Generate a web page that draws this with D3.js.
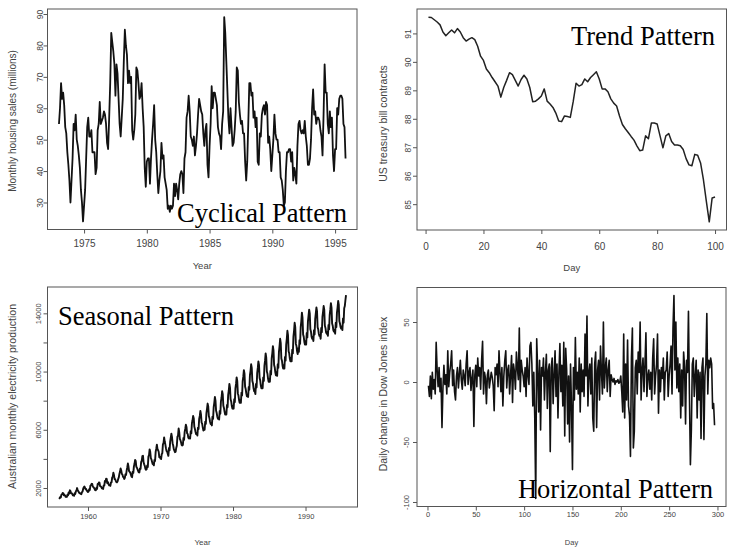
<!DOCTYPE html>
<html>
<head>
<meta charset="utf-8">
<script src="https://cdn.jsdelivr.net/npm/d3@7"></script>
<style>
  body { margin: 0; background: #fff; }
  svg { display: block; }
</style>
</head>
<body>
<svg id="chart" width="731" height="550"></svg>
<script>
// ---- Monthly housing sales (millions), Jan 1973 - Nov 1995 ----
const hsalesStart = 1973;
const hsales = [
  55, 60, 68, 63, 65, 61, 54, 52, 46, 42, 37, 30,
  37, 44, 55, 53, 58, 50, 48, 45, 41, 34, 30, 24,
  29, 34, 44, 54, 57, 51, 51, 53, 46, 46, 46, 39,
  41, 53, 55, 62, 55, 56, 57, 59, 58, 55, 49, 47,
  57, 68, 84, 81, 78, 74, 64, 74, 71, 63, 55, 51,
  57, 63, 75, 85, 80, 77, 68, 72, 68, 70, 53, 50,
  53, 58, 73, 72, 68, 63, 64, 68, 60, 54, 41, 35,
  43, 44, 44, 36, 44, 50, 55, 61, 50, 46, 39, 33,
  37, 40, 49, 44, 45, 38, 36, 34, 28, 29, 27, 29,
  28, 29, 36, 32, 36, 34, 31, 36, 39, 40, 39, 33,
  44, 46, 57, 59, 64, 59, 51, 50, 48, 51, 45, 48,
  52, 58, 63, 61, 59, 58, 52, 48, 53, 55, 42, 38,
  48, 55, 67, 60, 65, 65, 63, 61, 54, 52, 51, 47,
  55, 59, 89, 84, 75, 66, 57, 52, 60, 54, 48, 49,
  53, 59, 73, 72, 62, 58, 55, 56, 52, 52, 43, 37,
  43, 55, 68, 68, 64, 65, 57, 59, 54, 57, 43, 42,
  52, 51, 58, 60, 61, 58, 62, 61, 49, 51, 47, 40,
  45, 50, 58, 52, 50, 50, 46, 46, 38, 37, 34, 29,
  30, 40, 46, 46, 47, 47, 43, 46, 37, 41, 39, 36,
  48, 55, 56, 53, 52, 53, 52, 56, 51, 48, 42, 42,
  44, 50, 60, 66, 58, 59, 55, 57, 57, 56, 53, 51,
  45, 58, 74, 65, 65, 55, 52, 59, 54, 57, 45, 40,
  47, 47, 60, 58, 63, 64, 64, 63, 55, 54, 44
];
const hsalesXTicks = [1975, 1980, 1985, 1990, 1995];
const hsalesYTicks = [30, 40, 50, 60, 70, 80, 90];

// ---- US treasury bill contracts, 100 trading days ----
const ustreas = [
  91.57, 91.56, 91.48, 91.40, 91.30, 91.05, 90.92, 91.02, 91.12, 91.02,
  91.17, 91.05, 90.85, 90.73, 90.80, 90.85, 90.78, 90.55, 90.20, 90.05,
  89.75, 89.62, 89.45, 89.30, 89.15, 88.76, 89.10, 89.35, 89.62, 89.55,
  89.35, 89.15, 89.38, 89.53, 89.40, 89.10, 88.60, 88.62, 88.70, 88.80,
  89.05, 88.62, 88.52, 88.40, 88.20, 87.92, 87.90, 88.10, 88.08, 88.05,
  88.60, 89.25, 89.15, 89.20, 89.40, 89.30, 89.45, 89.55, 89.65, 89.40,
  89.05, 89.05, 88.95, 88.70, 88.55, 88.45, 88.10, 87.80, 87.65, 87.52,
  87.38, 87.25, 87.05, 86.88, 86.90, 87.40, 87.30, 87.85, 87.85, 87.82,
  87.40, 86.98, 87.40, 87.48, 87.20, 87.08, 87.08, 87.05, 86.92, 86.60,
  86.38, 86.35, 86.75, 86.72, 86.45, 85.85, 85.10, 84.38, 85.22, 85.25
];
const ustreasXTicks = [0, 20, 40, 60, 80, 100];
const ustreasYTicks = [85, 86, 87, 88, 89, 90, 91];

// ---- Australian monthly electricity production, Jan 1956 - Aug 1995 ----
const elecStart = 1956;
const elec = [
  1254, 1290, 1379, 1346, 1535, 1555, 1655, 1651, 1500, 1538, 1486, 1394,
  1409, 1387, 1543, 1502, 1693, 1616, 1841, 1787, 1631, 1649, 1586, 1500,
  1497, 1463, 1648, 1595, 1777, 1824, 1994, 1835, 1787, 1699, 1633, 1645,
  1597, 1577, 1709, 1756, 1936, 2052, 2105, 2016, 1914, 1925, 1824, 1765,
  1721, 1752, 1914, 1857, 2159, 2195, 2287, 2276, 2096, 2055, 2004, 1924,
  1851, 1839, 2019, 1937, 2270, 2251, 2382, 2364, 2129, 2110, 2072, 1980,
  1995, 1932, 2171, 2162, 2489, 2424, 2641, 2630, 2324, 2412, 2284, 2186,
  2184, 2144, 2379, 2383, 2717, 2774, 3051, 2891, 2613, 2600, 2493, 2410,
  2390, 2463, 2616, 2734, 2970, 3125, 3342, 3207, 2964, 2919, 2764, 2732,
  2622, 2698, 2950, 2895, 3200, 3408, 3679, 3473, 3154, 3107, 3052, 2918,
  2786, 2739, 3125, 3033, 3486, 3661, 3927, 3851, 3456, 3390, 3280, 3166,
  3080, 3069, 3340, 3310, 3798, 3883, 4191, 4213, 3766, 3628, 3520, 3322,
  3250, 3287, 3552, 3440, 4153, 4265, 4655, 4492, 4051, 3967, 3807, 3639,
  3647, 3560, 3929, 3858, 4485, 4697, 4977, 4675, 4596, 4491, 4127, 4144,
  4014, 3994, 4320, 4400, 5002, 5091, 5471, 5193, 4997, 4737, 4546, 4498,
  4350, 4206, 4743, 4582, 5191, 5457, 5735, 5505, 5080, 4920, 4672, 4569,
  4459, 4488, 4755, 4904, 5524, 5599, 6086, 5836, 5365, 5287, 5137, 4960,
  4926, 4952, 5446, 5307, 5855, 6073, 6349, 6194, 5753, 5718, 5456, 5399,
  5500, 5400, 5900, 5750, 6450, 6650, 6950, 6800, 6200, 6050, 5850, 5700,
  5750, 5600, 6150, 6050, 6750, 6950, 7300, 7050, 6500, 6400, 6150, 5950,
  6100, 6000, 6550, 6400, 7150, 7450, 7800, 7600, 6950, 6800, 6550, 6400,
  6450, 6300, 6900, 6750, 7550, 7850, 8250, 8000, 7300, 7150, 6900, 6750,
  6850, 6700, 7300, 7100, 7950, 8200, 8650, 8450, 7650, 7500, 7250, 7050,
  7200, 7050, 7700, 7550, 8400, 8700, 9150, 8900, 8100, 7950, 7650, 7450,
  7600, 7450, 8100, 7900, 8850, 9150, 9600, 9350, 8500, 8350, 8050, 7850,
  8050, 7850, 8550, 8350, 9350, 9650, 10100, 9850, 8950, 8800, 8500, 8300,
  8450, 8250, 8950, 8750, 9750, 10050, 10500, 10250, 9350, 9200, 8850, 8650,
  8650, 8450, 9150, 8900, 9900, 10250, 10700, 10450, 9550, 9400, 9050, 8850,
  9050, 8850, 9600, 9350, 10400, 10750, 11250, 10950, 10000, 9850, 9500, 9300,
  9500, 9300, 10050, 9800, 10900, 11250, 11750, 11450, 10450, 10300, 9950, 9750,
  9950, 9700, 10500, 10250, 11350, 11750, 12250, 11950, 10900, 10750, 10400, 10200,
  10450, 10200, 11000, 10750, 11850, 12250, 12800, 12500, 11400, 11250, 10900, 10700,
  10950, 10700, 11500, 11250, 12400, 12800, 13350, 13050, 11900, 11750, 11400, 11200,
  11600, 11350, 12150, 11900, 13050, 13450, 14050, 13700, 12550, 12400, 12050, 11850,
  12100, 11850, 12650, 12350, 13450, 13850, 14250, 14000, 12900, 12750, 12400, 12250,
  12350, 12100, 12850, 12550, 13600, 14000, 14400, 14150, 13050, 12900, 12600, 12450,
  12500, 12250, 13000, 12700, 13750, 14100, 14500, 14250, 13150, 13000, 12700, 12600,
  12700, 12450, 13200, 12900, 13900, 14250, 14700, 14400, 13300, 13150, 12850, 12750,
  12850, 12600, 13350, 13050, 14050, 14400, 14850, 14600, 13450, 13300, 13050, 12950,
  13100, 12850, 13650, 13350, 14350, 14500, 14900, 15250
];
const elecXTicks = [1960, 1970, 1980, 1990];
const elecYTicks = [2000, 4000, 6000, 8000, 10000, 12000, 14000];
const elecYTickLabels = [2000, 6000, 10000, 14000];

// ---- Daily change in the Dow Jones index ----
const djChange = [
  -3, -12, 5, -14, 8, -6, 2, -10, 33, 10,
  -4, 12, -8, 3, -38, -5, 14, -2, 6, -10,
  26, -4, 8, 15, 26, -3, 10, -8, -15, 5,
  12, -5, 7, 18, 2, -6, 10, 5, -3, 15,
  26, -2, 8, 12, -7, 3, 10, -37, 6, 14,
  -4, 20, 5, 12, -6, 18, 34, -10, 8, 3,
  -18, 6, 10, -5, 2, 8, 4, -3, -24, 12,
  6, 15, -4, 26, 8, -8, 12, -20, 5, 18,
  26, -5, 10, 14, -10, 6, 22, -17, 15, 8,
  -6, 25, 12, 2, 45, -8, 18, 10, 5, -4,
  12, -12, 20, 6, -2, 30, 33, 15, -20, 8,
  -30, -97, 36, 10, -25, 18, -40, 12, 5, 20,
  -15, 8, 23, -22, 10, 15, -58, 12, 20, -18,
  6, 26, -12, 15, -30, 8, 32, -8, 14, -20,
  33, -45, 28, 10, -35, 5, -50, 15, -20, -73,
  12, -15, 37, -6, 8, -10, 20, -25, 15, -8,
  10, -12, 40, 5, 55, -20, 8, 15, -10, 20,
  -30, -41, 15, 25, -38, 10, 18, -15, 30, 8,
  -10, 50, -5, 12, 20, -8, 10, 18, -12, 6,
  2, 0, 3, -2, 1, 0, 2, -1, 0, 5,
  -8, -25, 40, -30, 15, -15, 35, -20, -28, -62,
  20, 45, -55, -41, 12, 18, -10, 25, 8, 50,
  -15, 10, 20, -8, 15, 41, -12, 5, 10, -6,
  8, -15, 20, 36, -10, 5, 15, 40, -26, 10,
  -8, 12, 3, 20, -15, 8, 10, 25, -12, 5,
  15, 30, -10, 45, 72, 10, 50, -5, 20, -8,
  15, -30, 10, -20, 25, 12, -35, 18, 8, 59,
  -10, -69, -40, 15, 20, -12, 5, 18, -30, 10,
  -15, 8, -47, 12, 20, -48, 5, 15, 57, -10,
  18, 12, 20, 15, -22, -18, -36
];
const djXTicks = [0, 50, 100, 150, 200, 250, 300];
const djYTicks = [-100, -50, 0, 50];

// ---- drawing ----
const svg = d3.select("#chart");
const SANS = "'Liberation Sans', Arial, Helvetica, sans-serif";
const SERIF = "'Liberation Serif', 'Times New Roman', serif";
const AXIS_COLOR = "#555";
const TEXT_COLOR = "#444";

// R-style axis range: data extent widened by 4% on both sides
function padded(values) {
  const [lo, hi] = d3.extent(values);
  const p = (hi - lo) * 0.04;
  return [lo - p, hi + p];
}

function drawPanel(cfg) {
  const g = svg.append("g");
  const b = cfg.box;
  const x = d3.scaleLinear().domain(padded(cfg.xs)).range([b.x0, b.x1]);
  const y = d3.scaleLinear().domain(padded(cfg.ys)).range([b.y1, b.y0]);

  // series line
  const line = d3.line().x(d => x(d[0])).y(d => y(d[1]));
  g.append("path")
    .datum(d3.zip(cfg.xs, cfg.ys))
    .attr("d", line)
    .attr("fill", "none")
    .attr("stroke", cfg.stroke)
    .attr("stroke-width", cfg.lineWidth)
    .attr("stroke-linejoin", "round");

  // plot frame
  g.append("rect")
    .attr("x", b.x0).attr("y", b.y0)
    .attr("width", b.x1 - b.x0).attr("height", b.y1 - b.y0)
    .attr("fill", "none").attr("stroke", AXIS_COLOR).attr("stroke-width", 1);

  // bottom axis
  const xa = g.append("g")
    .attr("transform", `translate(0,${b.y1})`)
    .call(d3.axisBottom(x).tickValues(cfg.xTicks).tickSize(4)
      .tickPadding(cfg.xTickPad).tickFormat(v => String(v)));
  xa.select(".domain").remove();
  xa.selectAll("line").attr("stroke", AXIS_COLOR);
  xa.selectAll("text")
    .attr("font-family", SANS).attr("font-size", cfg.xTickFont)
    .attr("fill", TEXT_COLOR);

  // left axis, labels parallel to the axis
  const labelled = cfg.yTickLabels || cfg.yTicks;
  const ya = g.append("g")
    .attr("transform", `translate(${b.x0},0)`)
    .call(d3.axisLeft(y).tickValues(cfg.yTicks).tickSize(4)
      .tickFormat(v => labelled.includes(v) ? String(v) : ""));
  ya.select(".domain").remove();
  ya.selectAll("line").attr("stroke", AXIS_COLOR);
  ya.selectAll("text")
    .attr("transform", "rotate(-90)")
    .attr("x", 0).attr("y", -cfg.yTickPad).attr("dy", 0)
    .attr("text-anchor", "middle")
    .attr("font-family", SANS).attr("font-size", cfg.yTickFont)
    .attr("fill", TEXT_COLOR);

  // axis titles
  g.append("text")
    .attr("x", (b.x0 + b.x1) / 2).attr("y", cfg.xTitleY)
    .attr("text-anchor", "middle")
    .attr("font-family", SANS).attr("font-size", cfg.xTitleFont)
    .attr("fill", TEXT_COLOR)
    .text(cfg.xTitle);
  g.append("text")
    .attr("transform", `translate(${cfg.yTitleX},${cfg.yTitleMid}) rotate(-90)`)
    .attr("text-anchor", "middle")
    .attr("font-family", SANS).attr("font-size", cfg.yTitleFont)
    .attr("fill", TEXT_COLOR)
    .text(cfg.yTitle);

  // pattern caption
  g.append("text")
    .attr("x", cfg.captionX).attr("y", cfg.captionY)
    .attr("text-anchor", cfg.captionAnchor)
    .attr("font-family", SERIF).attr("font-size", 26.5)
    .attr("fill", "#000")
    .text(cfg.caption);
}

drawPanel({
  xs: hsales.map((_, i) => hsalesStart + i / 12),
  ys: hsales,
  box: { x0: 47.5, x1: 357, y0: 9, y1: 229.5 },
  stroke: "#111", lineWidth: 1.8,
  xTicks: hsalesXTicks, yTicks: hsalesYTicks,
  xTickPad: 6, xTickFont: 10, yTickPad: 5, yTickFont: 8.5,
  xTitle: "Year", xTitleY: 269, xTitleFont: 9.5,
  yTitle: "Monthly housing sales (millions)", yTitleX: 16, yTitleMid: 121, yTitleFont: 10,
  caption: "Cyclical Pattern", captionX: 347, captionY: 222, captionAnchor: "end"
});

drawPanel({
  xs: ustreas.map((_, i) => i + 1),
  ys: ustreas,
  box: { x0: 417, x1: 726.5, y0: 9, y1: 230 },
  stroke: "#222", lineWidth: 1.5,
  xTicks: ustreasXTicks, yTicks: ustreasYTicks,
  xTickPad: 9, xTickFont: 10, yTickPad: 6, yTickFont: 8.5,
  xTitle: "Day", xTitleY: 271, xTitleFont: 9.5,
  yTitle: "US treasury bill contracts", yTitleX: 387, yTitleMid: 123.5, yTitleFont: 10.5,
  caption: "Trend Pattern", captionX: 715, captionY: 45, captionAnchor: "end"
});

drawPanel({
  xs: elec.map((_, i) => elecStart + i / 12),
  ys: elec,
  box: { x0: 47.5, x1: 357.5, y0: 287, y1: 507 },
  stroke: "#111", lineWidth: 1.9,
  xTicks: elecXTicks, yTicks: elecYTicks, yTickLabels: elecYTickLabels,
  xTickPad: 3, xTickFont: 7.5, yTickPad: 7, yTickFont: 7.5,
  xTitle: "Year", xTitleY: 545, xTitleFont: 8,
  yTitle: "Australian monthly electricity production", yTitleX: 16, yTitleMid: 396.5, yTitleFont: 10.5,
  caption: "Seasonal Pattern", captionX: 58, captionY: 325, captionAnchor: "start"
});

drawPanel({
  xs: djChange.map((_, i) => i + 1),
  ys: djChange,
  box: { x0: 417, x1: 726, y0: 287.5, y1: 506.5 },
  stroke: "#111", lineWidth: 1.6,
  xTicks: djXTicks, yTicks: djYTicks,
  xTickPad: 1, xTickFont: 7.5, yTickPad: 8, yTickFont: 7.5,
  xTitle: "Day", xTitleY: 545, xTitleFont: 7.5,
  yTitle: "Daily change in Dow Jones index", yTitleX: 387, yTitleMid: 394, yTitleFont: 10.5,
  caption: "Horizontal Pattern", captionX: 713, captionY: 498, captionAnchor: "end"
});
</script>
</body>
</html>
